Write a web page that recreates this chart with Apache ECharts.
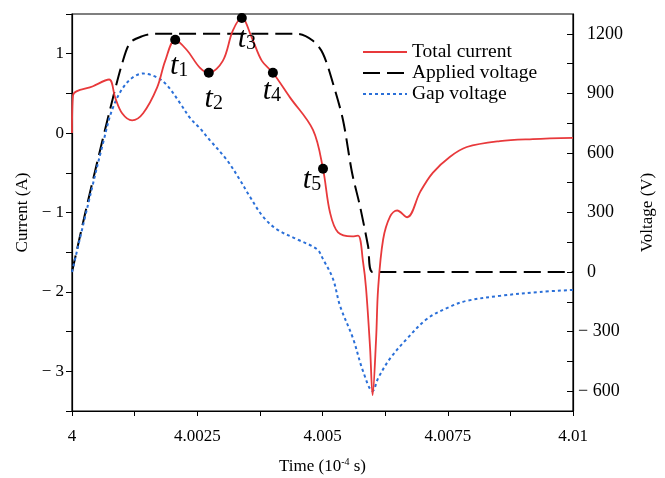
<!DOCTYPE html>
<html>
<head>
<meta charset="utf-8">
<script src="https://cdn.jsdelivr.net/npm/echarts@6.0.0/dist/echarts.min.js"></script>
<style>
  html, body { margin: 0; padding: 0; background: #fff; }
  #main { width: 665px; height: 478px; }
</style>
</head>
<body>
<div id="main"></div>
<script>
// 时间轴 (单位 10^-4 s)
const timeTicks = [4, 4.00125, 4.0025, 4.00375, 4.005, 4.00625, 4.0075, 4.00875, 4.01];
const timeLabels = [4, 4.0025, 4.005, 4.0075, 4.01];
// 右轴电压刻度
const voltTicks = [-600, -450, -300, -150, 0, 150, 300, 450, 600, 750, 900, 1050, 1200];
const voltLabels = [-600, -300, 0, 300, 600, 900, 1200];

// Total current (A)
const currentT = [4, 4.00002, 4.00042, 4.00074, 4.00086, 4.001, 4.0012, 4.00142, 4.0017, 4.00186,
  4.00206, 4.0023, 4.00255, 4.00273, 4.00301, 4.00321, 4.00339, 4.00359, 4.00379, 4.00401,
  4.00435, 4.00481, 4.00501, 4.00515, 4.00531, 4.00559, 4.00571, 4.00581, 4.00587, 4.00595,
  4.006, 4.00607, 4.00611, 4.00621, 4.00635, 4.00649, 4.00669, 4.00695, 4.0072, 4.00754,
  4.00788, 4.00854, 4.0092, 4.01];
const currentA = [0, 0.475, 0.59, 0.675, 0.45, 0.25, 0.16, 0.25, 0.575, 0.91,
  1.175, 1.04, 0.825, 0.76, 0.91, 1.29, 1.45, 1.2, 0.91, 0.76,
  0.45, 0.04, -0.45, -1.0, -1.25, -1.3, -1.29, -1.625, -1.96, -2.71,
  -3.3, -2.59, -1.96, -1.34, -1.05, -0.975, -1.06, -0.74, -0.5, -0.3,
  -0.175, -0.1, -0.075, -0.06];

// Applied voltage (V)
const appliedT = [4, 4.00028, 4.0006, 4.00082, 4.001, 4.00116, 4.00142, 4.00162, 4.00451, 4.00481,
  4.00501, 4.00521, 4.00541, 4.00559, 4.00575, 4.00591, 4.006, 4.01];
const appliedV = [0, 315, 655, 880, 1050, 1155, 1190, 1200, 1200, 1165,
  1100, 950, 765, 500, 330, 130, 0, 0];

// Gap voltage (V)
const gapT = [4, 4.00032, 4.00062, 4.00082, 4.0011, 4.00142, 4.0017, 4.0019, 4.00216, 4.00236,
  4.00255, 4.00275, 4.00309, 4.00335, 4.00355, 4.00381, 4.00409, 4.00449, 4.00489, 4.00501,
  4.00521, 4.00535, 4.00561, 4.00581, 4.006, 4.00611, 4.00635, 4.00669, 4.00709, 4.00754,
  4.00788, 4.00854, 4.00934, 4.01];
const gapV = [0, 340, 650, 830, 955, 1000, 980, 940, 850, 775,
  725, 665, 565, 465, 380, 280, 215, 165, 115, 65,
  -35, -170, -335, -500, -600, -535, -435, -335, -235, -175,
  -145, -120, -100, -90];

// 标记点 t1..t5
const markerNames = ['1', '2', '3', '4', '5'];
const markerT = [4.00206, 4.00273, 4.00339, 4.00401, 4.00501];
const markerA = [1.175, 0.76, 1.45, 0.76, -0.45];

// 标签相对点的偏移
const labelOffsets = [[4, 26], [5, 26], [5, 21], [-1, 18], [-11, 11]];

const FONT = 'Liberation Serif';
const zip = (xs, ys) => xs.map((x, i) => [x, ys[i]]);
const fmtNum = (v) => (v < 0 ? '\u2212 ' + Math.abs(v) : String(v));

const chart = echarts.init(document.getElementById('main'));

const option = {
  backgroundColor: '#fff',
  animation: false,
  textStyle: { fontFamily: FONT },
  grid: {
    left: 72, right: 92, top: 14, bottom: 67,
    outerBoundsMode: 'none',
    show: true, borderColor: '#000', borderWidth: 1.2, backgroundColor: 'transparent',
  },
  legend: {
    orient: 'vertical',
    left: 357, top: 37,
    itemWidth: 44, itemHeight: 14, itemGap: 1,
    itemStyle: { opacity: 0 },
    textStyle: { fontFamily: FONT, fontSize: 19.5, color: '#000' },
    data: ['Total current', 'Applied voltage', 'Gap voltage'],
  },
  xAxis: {
    type: 'value',
    min: 4, max: 4.01,
    name: '{a|Time (10}{sup|-4}{a| s)}',
    nameLocation: 'middle', nameGap: 46,
    nameTextStyle: {
      rich: {
        a: { fontFamily: FONT, fontSize: 17, color: '#000', lineHeight: 20 },
        sup: { fontFamily: FONT, fontSize: 10, color: '#000', verticalAlign: 'top', lineHeight: 12 },
      },
    },
    axisLine: { onZero: false, lineStyle: { color: '#000', width: 1.2 } },
    axisTick: { show: true, length: 5, inside: false, customValues: timeTicks, lineStyle: { color: '#000' } },
    axisLabel: {
      customValues: timeLabels, color: '#000', fontSize: 17, fontFamily: FONT, margin: 17,
      formatter: (v) => String(+v.toFixed(5)),
    },
    splitLine: { show: false },
  },
  yAxis: [
    {
      type: 'value',
      min: -3.5, max: 1.5, interval: 0.5,
      name: 'Current (A)',
      nameLocation: 'middle', nameGap: 40, nameRotate: 90,
      nameTextStyle: { fontFamily: FONT, fontSize: 17, color: '#000' },
      axisLine: { show: true, lineStyle: { color: '#000', width: 1.2 } },
      axisTick: { show: true, length: 6, lineStyle: { color: '#000' } },
      axisLabel: {
        color: '#000', fontSize: 17, fontFamily: FONT, margin: 8,
        formatter: (v) => (Math.abs(v - Math.round(v)) < 1e-9 ? fmtNum(Math.round(v)) : ''),
      },
      splitLine: { show: false },
    },
    {
      type: 'value',
      position: 'right',
      min: -700, max: 1300,
      name: 'Voltage (V)',
      nameLocation: 'middle', nameGap: 66, nameRotate: 90,
      nameTextStyle: { fontFamily: FONT, fontSize: 17, color: '#000' },
      axisLine: { show: true, lineStyle: { color: '#000', width: 1.2 } },
      axisTick: { show: true, inside: true, length: 6, customValues: voltTicks, lineStyle: { color: '#000' } },
      axisLabel: {
        customValues: voltLabels, color: '#000', fontSize: 18, fontFamily: FONT, margin: 5,
        formatter: (v) => (v < 0 ? fmtNum(v) : '{p|}' + v),
        rich: { p: { width: 9 } },
      },
      splitLine: { show: false },
    },
  ],
  series: [
    {
      name: 'Total current',
      type: 'line',
      yAxisIndex: 0,
      symbol: 'none',
      smooth: 0.35,
      lineStyle: { color: '#e8393b', width: 1.8 },
      itemStyle: { color: '#e8393b' },
      data: zip(currentT, currentA),
      z: 3,
    },
    {
      name: 'Applied voltage',
      type: 'line',
      yAxisIndex: 1,
      symbol: 'none',
      smooth: 0.3,
      lineStyle: { color: '#000', width: 2, type: [17, 7] },
      itemStyle: { color: '#000' },
      data: zip(appliedT, appliedV),
      z: 2,
    },
    {
      name: 'Gap voltage',
      type: 'line',
      yAxisIndex: 1,
      symbol: 'none',
      smooth: 0.35,
      lineStyle: { color: '#2a6fd8', width: 2, type: [3, 3] },
      itemStyle: { color: '#2a6fd8' },
      data: zip(gapT, gapV),
      z: 2,
    },
    {
      name: 'markers',
      type: 'scatter',
      yAxisIndex: 0,
      symbolSize: 10,
      itemStyle: { color: '#000', opacity: 1 },
      z: 5,
      data: markerT.map((t, i) => ({
        value: [t, markerA[i]],
        label: {
          show: true,
          position: 'inside',
          offset: labelOffsets[i],
          formatter: '{t|t}{s|' + markerNames[i] + '}',
          rich: {
            t: { fontFamily: FONT, fontStyle: 'italic', fontSize: 30, color: '#000', lineHeight: 30 },
            s: { fontFamily: FONT, fontSize: 20, color: '#000', verticalAlign: 'bottom', lineHeight: 16 },
          },
        },
      })),
    },
  ],
};

chart.setOption(option);
</script>
</body>
</html>
